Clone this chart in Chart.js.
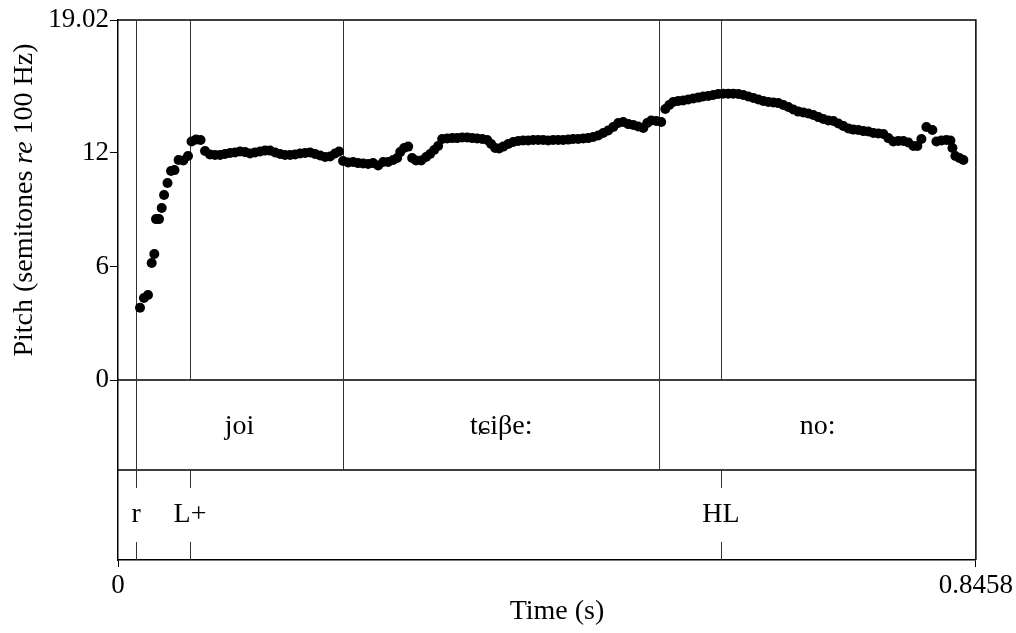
<!DOCTYPE html>
<html>
<head>
<meta charset="utf-8">
<title>Pitch track</title>
<script src="https://cdn.jsdelivr.net/npm/chart.js@4.4.1/dist/chart.umd.min.js"></script>
<style>
  html, body { margin: 0; padding: 0; background: #fff; }
  #wrap { width: 1016px; height: 633px; }
</style>
</head>
<body>
<div id="wrap"><canvas id="pitch" width="1016" height="633"></canvas></div>
<script>
// --- DATA ---
const timeSec = [
  0.0217, 0.0256, 0.0296, 0.0332, 0.0358, 0.0375, 0.0404, 0.0431, 0.0454, 0.0488,
  0.0523, 0.0557, 0.0597, 0.0644, 0.0690, 0.0725, 0.0769, 0.0814,
  0.0858, 0.0907, 0.0957, 0.1006, 0.1055, 0.1105, 0.1154, 0.1203, 0.1253, 0.1302,
  0.1351, 0.1401, 0.1450, 0.1499, 0.1549, 0.1598, 0.1647, 0.1697, 0.1746, 0.1795,
  0.1845, 0.1894, 0.1943, 0.1993, 0.2042, 0.2091, 0.2140, 0.2180,
  0.2219, 0.2269, 0.2318, 0.2367, 0.2417, 0.2466, 0.2515, 0.2565, 0.2614, 0.2663,
  0.2713, 0.2752, 0.2782, 0.2821, 0.2861,
  0.2900, 0.2939, 0.2989, 0.3038, 0.3077, 0.3117, 0.3156,
  0.3196, 0.3245, 0.3295, 0.3344, 0.3393, 0.3443, 0.3492, 0.3541, 0.3591, 0.3640,
  0.3679, 0.3719, 0.3758, 0.3798, 0.3847, 0.3896, 0.3946, 0.3995, 0.4044, 0.4094,
  0.4143, 0.4192, 0.4241, 0.4291, 0.4340, 0.4389, 0.4439, 0.4488, 0.4537, 0.4587,
  0.4636, 0.4685, 0.4735, 0.4784, 0.4833, 0.4883, 0.4932, 0.4981, 0.5031, 0.5080,
  0.5129, 0.5179, 0.5218, 0.5257, 0.5307, 0.5356,
  0.5396, 0.5435, 0.5474, 0.5523, 0.5573, 0.5622, 0.5672, 0.5721, 0.5770, 0.5819,
  0.5869, 0.5918, 0.5967, 0.6017, 0.6066, 0.6116, 0.6165, 0.6214, 0.6264, 0.6313,
  0.6362, 0.6412, 0.6461, 0.6510, 0.6560, 0.6609, 0.6658, 0.6707, 0.6757, 0.6806,
  0.6855, 0.6905, 0.6954, 0.7003, 0.7053, 0.7102, 0.7151, 0.7201, 0.7250, 0.7299,
  0.7349, 0.7398, 0.7447, 0.7496, 0.7546, 0.7595, 0.7644, 0.7694, 0.7743, 0.7792,
  0.7842, 0.7881, 0.7921,
  0.7970, 0.8029,
  0.8069, 0.8118, 0.8167, 0.8207, 0.8227, 0.8256, 0.8296, 0.8335
];
const pitchSt = [
  3.82, 4.33, 4.49, 6.18, 6.66, 8.50, 8.50, 9.09, 9.77, 10.41,
  11.04, 11.09, 11.62, 11.60, 11.83, 12.60, 12.70, 12.68,
  12.10, 11.91, 11.89, 11.89, 11.94, 11.99, 12.02, 12.07, 12.04, 11.97,
  12.02, 12.07, 12.12, 12.12, 12.02, 11.94, 11.89, 11.89, 11.91, 11.97,
  11.99, 12.02, 11.94, 11.86, 11.78, 11.81, 11.97, 12.07,
  11.57, 11.49, 11.52, 11.46, 11.44, 11.41, 11.46, 11.33, 11.52, 11.52,
  11.62, 11.73, 12.04, 12.26, 12.33,
  11.73, 11.60, 11.60, 11.78, 11.94, 12.15, 12.36,
  12.73, 12.76, 12.78, 12.78, 12.81, 12.81, 12.78, 12.76, 12.73, 12.68,
  12.47, 12.26, 12.23, 12.33, 12.47, 12.57, 12.63, 12.65, 12.65, 12.68,
  12.68, 12.68, 12.65, 12.68, 12.68, 12.68, 12.70, 12.73, 12.73, 12.76,
  12.78, 12.84, 12.92, 13.05, 13.18, 13.37, 13.58, 13.63, 13.52, 13.47,
  13.39, 13.31, 13.58, 13.71, 13.68, 13.63,
  14.32, 14.53, 14.69, 14.74, 14.77, 14.82, 14.87, 14.92, 14.98, 15.00,
  15.06, 15.11, 15.13, 15.13, 15.13, 15.11, 15.06, 14.98, 14.90, 14.82,
  14.74, 14.69, 14.66, 14.63, 14.53, 14.42, 14.29, 14.18, 14.13, 14.08,
  14.00, 13.89, 13.79, 13.71, 13.68, 13.55, 13.42, 13.29, 13.23, 13.21,
  13.15, 13.13, 13.05, 13.02, 13.00, 12.78, 12.60, 12.63, 12.63, 12.55,
  12.36, 12.36, 12.73,
  13.37, 13.21,
  12.60, 12.65, 12.68, 12.65, 12.26, 11.83, 11.73, 11.62
];

const yTicks = [0, 6, 12, 19.02];
const xTicks = [0, 0.8458];
const T_MAX = 0.8458;
const Y_MAX = 19.02;
const Y_MIN = -9.51; // room below 0 for the two text tiers

// tier 1: words (interval boundaries), tier 2: tones (points)
const wordBounds = [0.0178, 0.222, 0.5337, 0.8458];
const wordLabels = ['joi', 'tɕiβe:', 'no:'];
const toneTimes = [0.0178, 0.0710, 0.5945];
const toneLabels = ['r', 'L+', 'HL'];

const FONT = '"Liberation Serif", "DejaVu Serif", serif';
const TICK_SIZE = 27;
const TEXT_SIZE = 28;

// --- plugin: frame, tiers, titles ---
const tierPlugin = {
    id: 'tiers',
    beforeDatasetsDraw(chart) {
        const ctx = chart.ctx;
        const { left, right, top, bottom } = chart.chartArea;
        const xs = chart.scales.x, ys = chart.scales.y;
        const y0 = ys.getPixelForValue(0);
        const yMid = ys.getPixelForValue(Y_MIN / 2);
        ctx.save();
        ctx.strokeStyle = '#000';
        ctx.lineWidth = 1.5;
        ctx.beginPath();
        ctx.moveTo(left, top); ctx.lineTo(right, top); ctx.lineTo(right, bottom);
        ctx.moveTo(left, y0); ctx.lineTo(right, y0);
        ctx.moveTo(left, yMid); ctx.lineTo(right, yMid);
        ctx.stroke();

        ctx.lineWidth = 1;
        ctx.strokeStyle = '#333';
        ctx.beginPath();
        wordBounds.slice(0, -1).forEach(t => {
            const px = Math.round(xs.getPixelForValue(t)) + 0.5;
            ctx.moveTo(px, top); ctx.lineTo(px, yMid);
        });
        toneTimes.forEach(t => {
            const px = Math.round(xs.getPixelForValue(t)) + 0.5;
            ctx.moveTo(px, top); ctx.lineTo(px, y0);
            ctx.moveTo(px, yMid); ctx.lineTo(px, yMid + 18);
            ctx.moveTo(px, bottom - 18); ctx.lineTo(px, bottom);
        });
        ctx.stroke();
        ctx.restore();
    },
    afterDraw(chart) {
        const ctx = chart.ctx;
        const { top, bottom } = chart.chartArea;
        const xs = chart.scales.x, ys = chart.scales.y;
        const y0 = ys.getPixelForValue(0);
        const yMid = ys.getPixelForValue(Y_MIN / 2);
        ctx.save();
        ctx.fillStyle = '#000';
        ctx.font = `${TEXT_SIZE}px ${FONT}`;
        ctx.textAlign = 'center';
        ctx.textBaseline = 'middle';
        wordLabels.forEach((lab, i) => {
            const cx = (xs.getPixelForValue(wordBounds[i]) + xs.getPixelForValue(wordBounds[i + 1])) / 2;
            ctx.fillText(lab, cx, (y0 + yMid) / 2 + 2);
        });
        toneLabels.forEach((lab, i) => {
            ctx.fillText(lab, xs.getPixelForValue(toneTimes[i]), (yMid + bottom) / 2);
        });

        // x title
        ctx.fillText('Time (s)', 557, 612);

        // y title, with italic "re"
        const parts = [['Pitch (semitones ', ''], ['re', 'italic '], [' 100 Hz)', '']];
        let total = 0;
        parts.forEach(p => { ctx.font = `${p[1]}${TEXT_SIZE}px ${FONT}`; total += ctx.measureText(p[0]).width; });
        ctx.translate(25, (top + y0) / 2);
        ctx.rotate(-Math.PI / 2);
        ctx.textAlign = 'left';
        let pos = -total / 2;
        parts.forEach(p => {
            ctx.font = `${p[1]}${TEXT_SIZE}px ${FONT}`;
            ctx.fillText(p[0], pos, 0);
            pos += ctx.measureText(p[0]).width;
        });
        ctx.restore();
    }
};

const points = timeSec.map((t, i) => ({ x: t, y: pitchSt[i] }));

new Chart(document.getElementById('pitch'), {
    type: 'scatter',
    data: {
        datasets: [{
            data: points,
            pointRadius: 5,
            pointHoverRadius: 5,
            pointBackgroundColor: '#000',
            pointBorderWidth: 0,
            showLine: false
        }]
    },
    options: {
        responsive: false,
        animation: false,
        devicePixelRatio: 1,
        layout: { padding: { top: 20, right: 40, left: 0, bottom: 0 } },
        plugins: { legend: { display: false }, tooltip: { enabled: false } },
        scales: {
            x: {
                type: 'linear', min: 0, max: T_MAX,
                afterBuildTicks: axis => { axis.ticks = xTicks.map(v => ({ value: v })); },
                afterFit: scale => { scale.height = 73; },
                grid: { drawOnChartArea: false, drawTicks: true, tickLength: 7, color: '#000' },
                border: { display: true, color: '#000', width: 1.5 },
                ticks: {
                    autoSkip: false, maxRotation: 0, padding: 3, color: '#000',
                    font: { family: FONT, size: TICK_SIZE },
                    callback: v => String(v)
                }
            },
            y: {
                type: 'linear', min: Y_MIN, max: Y_MAX,
                afterBuildTicks: axis => { axis.ticks = yTicks.map(v => ({ value: v })); },
                afterFit: scale => { scale.width = 118; },
                grid: { drawOnChartArea: false, drawTicks: true, tickLength: 8, color: '#000' },
                border: { display: true, color: '#000', width: 1.5 },
                ticks: {
                    autoSkip: false, padding: 1, color: '#000',
                    font: { family: FONT, size: TICK_SIZE },
                    callback: v => String(v)
                }
            }
        }
    },
    plugins: [tierPlugin]
});
</script>
</body>
</html>
